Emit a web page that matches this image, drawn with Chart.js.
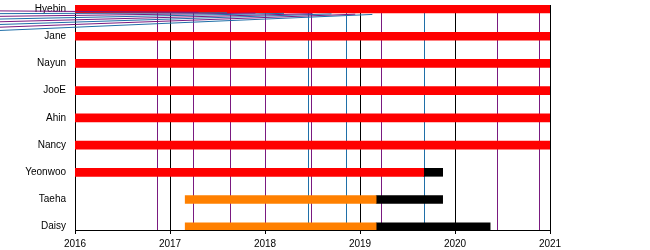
<!DOCTYPE html>
<html>
<head>
<meta charset="utf-8">
<script src="https://cdn.jsdelivr.net/npm/chart.js@4"></script>
<style>
    body { margin: 0; background: #fff; }
    #wrap { width: 650px; height: 250px; }
</style>
</head>
<body>
<div id="wrap"><canvas id="chart1"></canvas></div>
<script>
// Datos
const miembros = ['Hyebin', 'Jane', 'Nayun', 'JooE', 'Ahin', 'Nancy', 'Yeonwoo', 'Taeha', 'Daisy'];
const anios = [2016, 2017, 2018, 2019, 2020, 2021];

// periodos [inicio, fin] por miembro (null = sin barra)
const periodoRojo = [[2016, 2021], [2016, 2021], [2016, 2021], [2016, 2021], [2016, 2021], [2016, 2021], [2016, 2019.67], null, null];
const periodoNaranja = [null, null, null, null, null, null, null, [2017.16, 2019.17], [2017.16, 2019.17]];
const periodoNegro = [null, null, null, null, null, null, [2019.67, 2019.87], [2019.17, 2019.87], [2019.17, 2020.37]];

// lineas de eventos
const eventosMorados = [2016.86, 2017.24, 2017.63, 2018.0, 2018.48, 2019.22, 2020.44, 2020.88];
const eventosAzules = [2018.45, 2018.85, 2019.67];

// lineas cruzadas de arriba a la izquierda
const cruzadasInicioY = [0.07, 0.17, 0.27, 0.37, 0.47, 0.57, 0.67, 0.79];
const cruzadasFinX = [2017.3, 2017.6, 2017.9, 2018.2, 2018.5, 2018.7, 2018.95, 2019.13];
const cruzadasFinY = [0.12, 0.14, 0.15, 0.16, 0.17, 0.18, 0.19, 0.2];

function barras(periodos, color) {
    return {
        type: 'bar',
        indexAxis: 'y',
        grouped: false,
        barThickness: 8,
        backgroundColor: color,
        borderWidth: 0,
        data: periodos.map((p, i) => p ? { x: p, y: i } : null).filter(d => d)
    };
}

const cruzadas = cruzadasInicioY.map((y0, i) => ({
    type: 'line',
    data: [{ x: 2015.2, y: y0 }, { x: cruzadasFinX[i], y: cruzadasFinY[i] }],
    borderColor: i % 2 ? '#1f6fa8' : '#7a1a80',
    borderWidth: 1,
    pointRadius: 0,
    clip: false,
    order: -1
}));

// Plugin para las lineas verticales de eventos
const lineasEventos = {
    id: 'lineasEventos',
    beforeDatasetsDraw(chart) {
        const ctx = chart.ctx;
        const area = chart.chartArea;
        const x = chart.scales.x;
        const dibujar = (fechas, color) => {
            ctx.save();
            ctx.strokeStyle = color;
            ctx.lineWidth = 1;
            fechas.forEach(f => {
                const px = Math.round(x.getPixelForValue(f)) + 0.5;
                ctx.beginPath();
                ctx.moveTo(px, area.top);
                ctx.lineTo(px, area.bottom);
                ctx.stroke();
            });
            ctx.restore();
        };
        dibujar(eventosMorados, '#7a1a80');
        dibujar(eventosAzules, '#1f6fa8');
    }
};

Chart.defaults.font.family = '"Liberation Sans", Arial, sans-serif';
Chart.defaults.font.size = 10;
Chart.defaults.color = '#000';

new Chart(document.getElementById('chart1'), {
    type: 'bar',
    data: {
        datasets: [
            barras(periodoRojo, '#ff0000'),
            barras(periodoNaranja, '#ff8000'),
            barras(periodoNegro, '#000000'),
            ...cruzadas
        ]
    },
    options: {
        responsive: true,
        maintainAspectRatio: false,
        animation: false,
        layout: { padding: { top: 5, right: 100, left: 0, bottom: 0 } },
        plugins: { legend: { display: false }, tooltip: { enabled: false } },
        scales: {
            x: {
                type: 'linear',
                offset: false,
                min: anios[0],
                max: anios[anios.length - 1],
                afterBuildTicks: s => { s.ticks = anios.map(v => ({ value: v })); },
                afterFit: s => { s.height = 20; s.paddingLeft = 0; s.paddingRight = 0; },
                ticks: { callback: v => String(v), padding: 4, maxRotation: 0 },
                grid: { offset: false, color: '#000', lineWidth: 1, drawTicks: true, tickLength: 4 },
                border: { display: true, color: '#000' }
            },
            y: {
                type: 'linear',
                offset: false,
                reverse: true,
                min: -0.147,
                max: 8.12,
                afterBuildTicks: s => { s.ticks = miembros.map((m, i) => ({ value: i })); },
                afterFit: s => { s.width = 75; s.paddingTop = 0; s.paddingBottom = 0; },
                ticks: { callback: v => miembros[v], padding: 9 },
                grid: { offset: false, display: false, drawTicks: false },
                border: { display: true, color: '#000' }
            }
        }
    },
    plugins: [lineasEventos]
});
</script>
</body>
</html>
